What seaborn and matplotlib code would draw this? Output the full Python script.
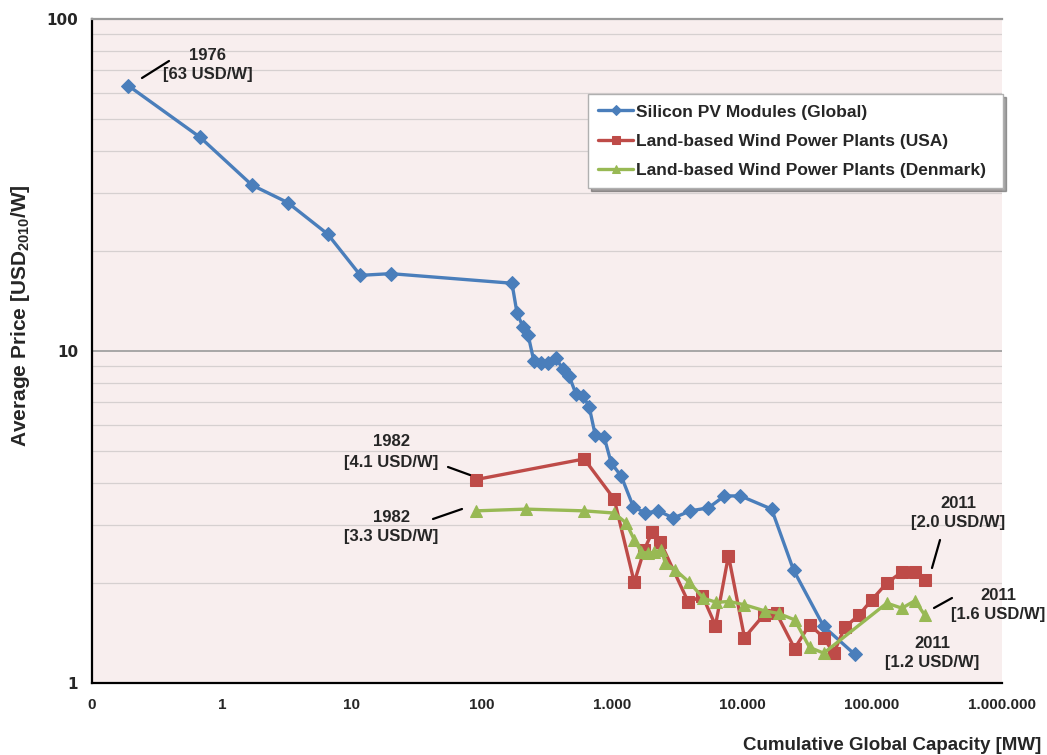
import numpy as np
import pandas as pd
import matplotlib
matplotlib.use("Agg")
import matplotlib.pyplot as plt
import matplotlib.ticker as mticker
from matplotlib.lines import Line2D
import seaborn as sns

# Silicon PV modules (global): cumulative capacity [MW], price [USD2010/W]
pv_capacity = [0.19, 0.68, 1.7, 3.2, 6.5, 11.6, 19.9, 170, 186, 207, 226, 251, 284, 322,
               371, 421, 468, 530, 600, 667, 742, 871, 986, 1177, 1457, 1800, 2270, 2960,
               4010, 5520, 7330, 9730, 16900, 24900, 42500, 73600]
pv_price = [63, 44, 31.6, 28, 22.5, 16.9, 17.1, 16.0, 13.0, 11.8, 11.2, 9.3, 9.2, 9.2,
            9.5, 8.8, 8.4, 7.4, 7.3, 6.8, 5.6, 5.5, 4.6, 4.2, 3.4, 3.25, 3.3, 3.14,
            3.3, 3.37, 3.66, 3.66, 3.34, 2.19, 1.48, 1.22]

# Land-based wind power plants (USA)
usa_capacity = [90, 611, 1040, 1483, 1770, 2042, 2354, 3870, 4965, 6250, 7870, 10450,
                14650, 18450, 25400, 33100, 42500, 50700, 61700, 79100, 99600, 130000,
                170000, 214000, 255000]
usa_price = [4.1, 4.73, 3.58, 2.01, 2.52, 2.85, 2.66, 1.75, 1.83, 1.49, 2.42, 1.37,
             1.60, 1.62, 1.27, 1.50, 1.37, 1.23, 1.47, 1.60, 1.78, 2.0, 2.16, 2.16, 2.04]

# Land-based wind power plants (Denmark)
dk_capacity = [90, 218, 611, 1040, 1288, 1483, 1680, 1900, 2115, 2395, 2570, 3070, 3935,
               5050, 6350, 8010, 10450, 14900, 19100, 25400, 33100, 42500, 130000, 170000,
               214000, 255000]
dk_price = [3.3, 3.34, 3.30, 3.25, 3.03, 2.70, 2.48, 2.46, 2.48, 2.52, 2.30, 2.19, 2.01,
            1.80, 1.75, 1.76, 1.72, 1.65, 1.62, 1.55, 1.28, 1.23, 1.74, 1.68, 1.77, 1.6]

series_names = ["Silicon PV Modules (Global)",
                "Land-based Wind Power Plants (USA)",
                "Land-based Wind Power Plants (Denmark)"]

x_ticks = [0.1, 1, 10, 100, 1000, 10000, 100000, 1000000]
y_ticks = [1, 10, 100]

W, H = 1047, 755


def fx(px):
    return px / W


def fy(py):
    return 1 - py / H


df = pd.concat([
    pd.DataFrame({"capacity": pv_capacity, "price": pv_price, "series": series_names[0]}),
    pd.DataFrame({"capacity": usa_capacity, "price": usa_price, "series": series_names[1]}),
    pd.DataFrame({"capacity": dk_capacity, "price": dk_price, "series": series_names[2]}),
])

sns.set_style("white")
plt.rcParams["font.family"] = ["Liberation Sans", "DejaVu Sans"]
plt.rcParams["mathtext.fontset"] = "custom"
plt.rcParams["mathtext.bf"] = "Liberation Sans:bold"
plt.rcParams["mathtext.rm"] = "Liberation Sans"

fig = plt.figure(figsize=(W / 100, H / 100), dpi=100)
ax = fig.add_axes([fx(92), fy(683), fx(1002) - fx(92), fy(19) - fy(683)])
ax.set_facecolor("#f8eeee")

colors = ["#4a7ebb", "#be4b48", "#98b954"]
markers = ["D", "s", "^"]
msizes = [7, 8, 8.5]
for name, col, mk, ms in zip(series_names, colors, markers, msizes):
    sns.lineplot(data=df[df["series"] == name], x="capacity", y="price", ax=ax,
                 color=col, marker=mk, markersize=ms, markeredgecolor=col,
                 linewidth=2.4, label=name, estimator=None, sort=False, zorder=3)

ax.set_xscale("log")
ax.set_yscale("log")
ax.set_xlim(x_ticks[0], x_ticks[-1])
ax.set_ylim(y_ticks[0], y_ticks[-1])

# horizontal gridlines
ax.yaxis.set_minor_locator(mticker.LogLocator(base=10, subs=np.arange(2, 10)))
ax.grid(False)
ax.grid(axis="y", which="minor", color="#d6d0d0", linewidth=0.9, zorder=0)
ax.grid(axis="y", which="major", color="#9a9a9a", linewidth=1.2, zorder=0)
ax.set_axisbelow(True)

ax.set_xticks(x_ticks)
ax.xaxis.set_minor_locator(mticker.LogLocator(base=10, subs=np.arange(2, 10)))
ax.xaxis.set_major_formatter(mticker.FuncFormatter(
    lambda v, p: "0" if v < 1 else f"{int(round(v)):,}".replace(",", ".")))
ax.yaxis.set_major_formatter(mticker.FuncFormatter(lambda v, p: f"{int(round(v))}"))
ax.set_yticks(y_ticks)
ax.yaxis.set_minor_formatter(mticker.NullFormatter())
ax.xaxis.set_minor_formatter(mticker.NullFormatter())

ax.tick_params(axis="x", which="major", direction="inout", length=9, width=1.2,
               pad=6, labelsize=11)
ax.tick_params(axis="x", which="minor", direction="in", length=5, width=1.0)
ax.tick_params(axis="y", which="major", direction="out", length=5, width=1.2,
               pad=5, labelsize=11)
ax.tick_params(axis="y", which="minor", length=0)
for lab in ax.get_xticklabels():
    lab.set_fontweight("bold")
for lab in ax.get_yticklabels():
    lab.set_fontweight("bold")
    lab.set_family("DejaVu Sans")

for side in ["left", "bottom"]:
    ax.spines[side].set_color("black")
    ax.spines[side].set_linewidth(1.6)
ax.spines["top"].set_color("#9a9a9a")
ax.spines["top"].set_linewidth(1.6)
ax.spines["right"].set_visible(False)

ax.set_xlabel("")
ax.set_ylabel("")
fig.text(fx(1041), fy(745), "Cumulative Global Capacity [MW]", ha="right", va="center",
         fontsize=13.5, fontweight="bold")
fig.text(fx(21), fy(316), r"Average Price [USD$_{\mathbf{2010}}$/W]", rotation=90,
         ha="center", va="center", fontsize=15, fontweight="bold")

leg = ax.legend(loc="upper left",
                bbox_to_anchor=(fx(588), fy(194), fx(1003) - fx(588), fy(94) - fy(194)),
                bbox_transform=fig.transFigure, mode="expand", borderaxespad=0,
                frameon=True, fancybox=False, shadow=True, edgecolor="#b0b0b0",
                framealpha=1, handlelength=2.0, handletextpad=0.15, labelspacing=0.8,
                borderpad=0.6, markerscale=0.7,
                prop={"weight": "bold", "size": 12.5})
leg.get_frame().set_linewidth(1.0)

# annotations: (text centre x, first line y, second line y, text)
notes = [
    (208, 55, 75, "1976", "[63 USD/W]"),
    (391, 441, 462, "1982", "[4.1 USD/W]"),
    (391, 517, 537, "1982", "[3.3 USD/W]"),
    (958, 503, 523, "2011", "[2.0 USD/W]"),
    (998, 595, 614, "2011", "[1.6 USD/W]"),
    (932, 643, 662, "2011", "[1.2 USD/W]"),
]
for cx, y1, y2, t1, t2 in notes:
    fig.text(fx(cx), fy(y1), t1, ha="center", va="center", fontsize=12,
             fontweight="bold")
    fig.text(fx(cx), fy(y2), t2, ha="center", va="center", fontsize=12,
             fontweight="bold")

leaders = [
    ((142, 78), (169, 61)),
    ((448, 467), (470, 475)),
    ((433, 519), (462, 509)),
    ((932, 568), (940, 540)),
    ((934, 608), (952, 598)),
]
for (x0, y0), (x1, y1) in leaders:
    fig.add_artist(Line2D([fx(x0), fx(x1)], [fy(y0), fy(y1)], color="black",
                          linewidth=1.6, transform=fig.transFigure))

fig.savefig("out.png", dpi=100)
